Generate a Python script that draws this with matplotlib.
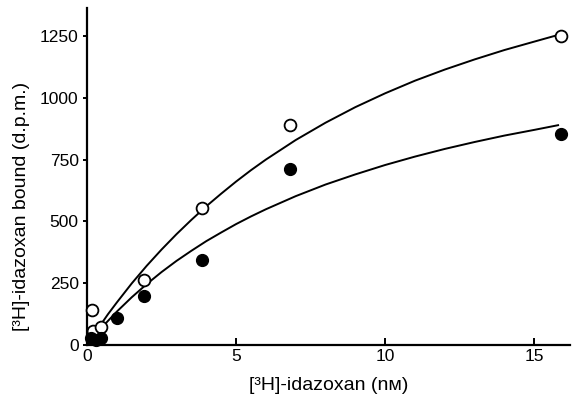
import matplotlib
matplotlib.use('Agg')
import matplotlib.pyplot as plt

plt.rcParams['font.family'] = ['Liberation Sans', 'DejaVu Sans']

# open circles
open_x = [0.16, 0.2, 0.47, 1.9, 3.85, 6.8, 15.9]
open_y = [140, 57, 74, 263, 553, 890, 1250]
# filled circles
fill_x = [0.15, 0.3, 0.46, 1.0, 1.9, 3.85, 6.8, 15.9]
fill_y = [30, 22, 30, 110, 200, 344, 711, 852]

# fitted curves
curve_x = [0.2, 0.3, 0.5, 0.7, 1, 1.5, 2, 2.5, 3, 3.5, 4, 4.5, 5, 5.5, 6, 7, 8, 9,
           10, 11, 12, 13, 14, 15, 15.8]
upper_y = [37, 55, 89, 124, 172, 249, 320, 386, 448, 506, 561, 612, 661, 707, 750,
           829, 899, 962, 1018, 1069, 1114, 1155, 1193, 1227, 1254]
lower_y = [29, 43, 71, 97, 135, 193, 246, 295, 340, 381, 420, 455, 489, 520, 549,
           602, 649, 690, 728, 762, 793, 821, 847, 870, 889]

fig = plt.figure(figsize=(5.74, 3.98), dpi=100)
ax = fig.add_axes([87/574, 53/398, (570-87)/574, (345-8)/398])

ax.plot(curve_x, upper_y, color='black', lw=1.4, zorder=2, solid_joinstyle='round')
ax.plot(curve_x, lower_y, color='black', lw=1.4, zorder=2, solid_joinstyle='round')
ax.plot(open_x, open_y, 'o', ms=8.5, mfc='white', mec='black', mew=1.3, zorder=3, clip_on=False)
ax.plot(fill_x, fill_y, 'o', ms=8.5, mfc='black', mec='black', zorder=4, clip_on=False)

ax.set_xlim(0, 16.2)
ax.set_ylim(0, 1363)
ax.set_xticks([0, 5, 10, 15])
ax.set_yticks([0, 250, 500, 750, 1000, 1250])

for s in ['top', 'right']:
    ax.spines[s].set_visible(False)
for s in ['left', 'bottom']:
    ax.spines[s].set_linewidth(1.6)

ax.tick_params(axis='x', direction='in', length=5, width=1.4, labelsize=12.5, pad=3)
ax.tick_params(axis='y', direction='out', length=3, width=1.4, labelsize=12.5, pad=3)

ax.set_xlabel('[³H]-idazoxan (nᴍ)', fontsize=14, labelpad=9)
ax.set_ylabel('[³H]-idazoxan bound (d.p.m.)', fontsize=14)
ax.yaxis.set_label_coords(-0.118, 0.41)

fig.savefig('out.png', dpi=100)
